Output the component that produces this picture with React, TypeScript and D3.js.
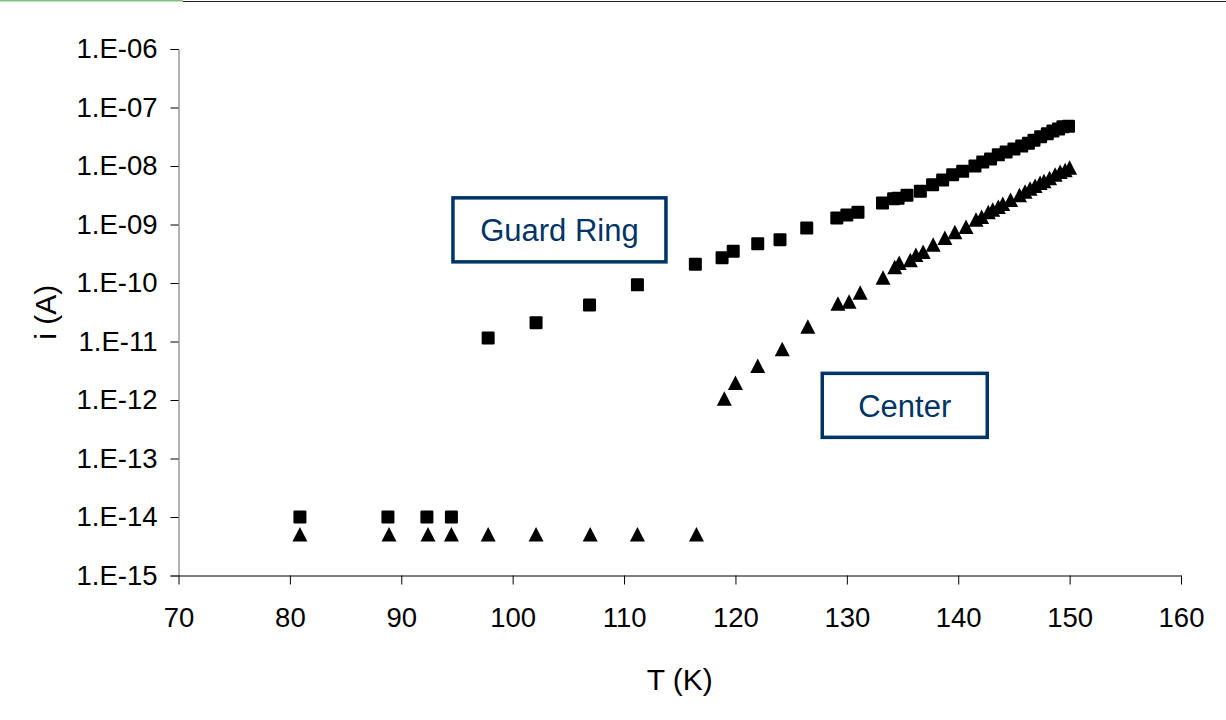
import React, { useEffect, useRef } from "react";
import * as d3 from "d3";

// Guard ring (squares): temperature (K) and current (A)
const guardT = [
  80.9, 88.8, 92.3, 94.5, 97.8, 102.1, 106.9, 111.2, 116.4, 118.8, 119.8, 122.0,
  124.0, 126.4, 129.1, 130.0, 131.0, 133.2, 134.2, 134.6, 135.4, 136.6, 137.7,
  138.6, 139.5, 140.4, 141.5, 142.2, 142.9, 143.6, 144.3, 145.0, 145.7, 146.3,
  146.8, 147.4, 148.0, 148.5, 149.0, 149.4, 149.9,
];
const guardI = [
  1.0e-14, 1.0e-14, 1.0e-14, 1.0e-14, 1.15e-11, 2.1e-11, 4.2e-11, 9.3e-11, 2.1e-10,
  2.7e-10, 3.5e-10, 4.7e-10, 5.5e-10, 8.7e-10, 1.29e-9, 1.45e-9, 1.62e-9, 2.34e-9,
  2.75e-9, 2.8e-9, 3.16e-9, 3.7e-9, 4.8e-9, 5.75e-9, 7.1e-9, 8.1e-9, 1.0e-8,
  1.17e-8, 1.32e-8, 1.55e-8, 1.74e-8, 1.95e-8, 2.19e-8, 2.45e-8, 2.75e-8, 3.16e-8,
  3.55e-8, 3.98e-8, 4.27e-8, 4.68e-8, 4.8e-8,
];

// Center (triangles): temperature (K) and current (A)
const centerT = [
  80.9, 88.9, 92.4, 94.5, 97.8, 102.1, 106.96, 111.2, 116.5, 119.0, 120.0, 122.0,
  124.2, 126.5, 129.2, 130.2, 131.2, 133.25, 134.3, 134.7, 135.7, 136.2, 136.85,
  137.75, 138.8, 139.7, 140.7, 141.6, 142.1, 142.7, 143.1, 143.6, 144.0, 144.7,
  145.5, 146.0, 146.45, 146.9, 147.35, 147.7, 148.2, 148.7, 149.15, 149.6, 150.0,
];
const centerI = [
  5.0e-15, 5.0e-15, 5.0e-15, 5.0e-15, 5.0e-15, 5.0e-15, 5.0e-15, 5.0e-15, 5.0e-15,
  1.05e-12, 1.95e-12, 3.8e-12, 7.4e-12, 1.78e-11, 4.4e-11, 4.8e-11, 6.8e-11,
  1.23e-10, 1.86e-10, 2.2e-10, 2.45e-10, 3.0e-10, 3.4e-10, 4.5e-10, 5.9e-10,
  7.4e-10, 9.1e-10, 1.2e-9, 1.35e-9, 1.62e-9, 1.78e-9, 2.0e-9, 2.24e-9, 2.63e-9,
  3.16e-9, 3.63e-9, 4.07e-9, 4.57e-9, 5.13e-9, 5.5e-9, 6.17e-9, 7.1e-9, 7.9e-9,
  8.5e-9, 9.3e-9,
];

const xTicks = [70, 80, 90, 100, 110, 120, 130, 140, 150, 160];
const yTicks = [1e-6, 1e-7, 1e-8, 1e-9, 1e-10, 1e-11, 1e-12, 1e-13, 1e-14, 1e-15];

// callout labels, anchored at (T, i) of the box centre
const labelText = ["Guard Ring", "Center"];
const labelT = [104.2, 135.2];
const labelI = [8.1e-10, 8.1e-13];

function App() {
  const ref = useRef<SVGSVGElement>(null);

  useEffect(() => {
    const svg = d3.select(ref.current);
    svg.selectAll("*").remove();

    const width = 1226;
    const height = 720;
    const font = "'Liberation Sans', Arial, sans-serif";

    const x = d3.scaleLinear().domain([70, 160]).range([178.5, 1181]);
    const y = d3.scaleLog().domain([1e-15, 1e-6]).range([575.5, 49]);

    svg.append("rect").attr("width", width).attr("height", height).attr("fill", "#fff");

    // thin frame at the top
    svg.append("rect").attr("x", 0).attr("y", 0).attr("width", 183).attr("height", 1.5).attr("fill", "#7cc47c");
    svg.append("line").attr("x1", 183).attr("x2", width).attr("y1", 1.5).attr("y2", 1.5).attr("stroke", "#222").attr("stroke-width", 1.2);

    // y axis
    const gy = svg.append("g").attr("transform", `translate(${x(70)},0)`);
    gy.call(
      d3.axisLeft(y)
        .tickValues(yTicks)
        .tickSize(8)
        .tickPadding(13)
        .tickFormat(d => {
          const e = Math.round(Math.log10(+d));
          return `1.E-${String(-e).padStart(2, "0")}`;
        })
    );
    gy.select(".domain").attr("stroke", "#666");
    gy.selectAll(".tick line").attr("stroke", "#000");
    gy.selectAll("text").attr("font-family", font).attr("font-size", 27.5).attr("fill", "#000");

    // x axis
    const gx = svg.append("g").attr("transform", `translate(0,${y(1e-15)})`);
    gx.call(d3.axisBottom(x).tickValues(xTicks).tickSize(9).tickSizeOuter(0).tickPadding(23).tickFormat(d3.format("d")));
    gx.select(".domain").attr("stroke", "#000");
    gx.selectAll(".tick line").attr("stroke", "#000");
    gx.selectAll("text").attr("font-family", font).attr("font-size", 27.5).attr("fill", "#000");

    // axis titles
    svg.append("text")
      .attr("transform", `translate(56,${(y(1e-6) + y(1e-15)) / 2}) rotate(-90)`)
      .attr("text-anchor", "middle")
      .attr("font-family", font)
      .attr("font-size", 30)
      .text("i (A)");
    svg.append("text")
      .attr("x", (x(70) + x(160)) / 2)
      .attr("y", 690)
      .attr("text-anchor", "middle")
      .attr("font-family", font)
      .attr("font-size", 30)
      .text("T (K)");

    // squares
    const guard = guardT.map((t, k) => ({ t, i: guardI[k] }));
    svg.append("g")
      .selectAll("rect")
      .data(guard)
      .join("rect")
      .attr("x", d => x(d.t) - 6.5)
      .attr("y", d => y(d.i) - 6.5)
      .attr("width", 13)
      .attr("height", 13)
      .attr("rx", 1.2)
      .attr("fill", "#000");

    // triangles
    const center = centerT.map((t, k) => ({ t, i: centerI[k] }));
    svg.append("g")
      .selectAll("path")
      .data(center)
      .join("path")
      .attr("d", d => {
        const cx = x(d.t);
        const cy = y(d.i);
        const p = d3.path();
        p.moveTo(cx, cy - 7.5);
        p.lineTo(cx + 7.5, cy + 7);
        p.lineTo(cx - 7.5, cy + 7);
        p.closePath();
        return p.toString();
      })
      .attr("fill", "#000");

    // labelled boxes
    const boxW = [213, 165];
    labelText.forEach((text, k) => {
      const cx = x(labelT[k]);
      const cy = y(labelI[k]);
      const g = svg.append("g");
      g.append("rect")
        .attr("x", cx - boxW[k] / 2)
        .attr("y", cy - 32)
        .attr("width", boxW[k])
        .attr("height", 64)
        .attr("fill", "#fff")
        .attr("stroke", "#003366")
        .attr("stroke-width", 3.5);
      g.append("text")
        .attr("x", cx)
        .attr("y", cy + 1)
        .attr("text-anchor", "middle")
        .attr("dominant-baseline", "central")
        .attr("font-family", font)
        .attr("font-size", 31)
        .attr("fill", "#003366")
        .text(text);
    });
  }, []);

  return (
    <svg
      ref={ref}
      width={1226}
      height={720}
      viewBox="0 0 1226 720"
      style={{ position: "absolute", left: 0, top: 0, display: "block" }}
    />
  );
}

export default App;
